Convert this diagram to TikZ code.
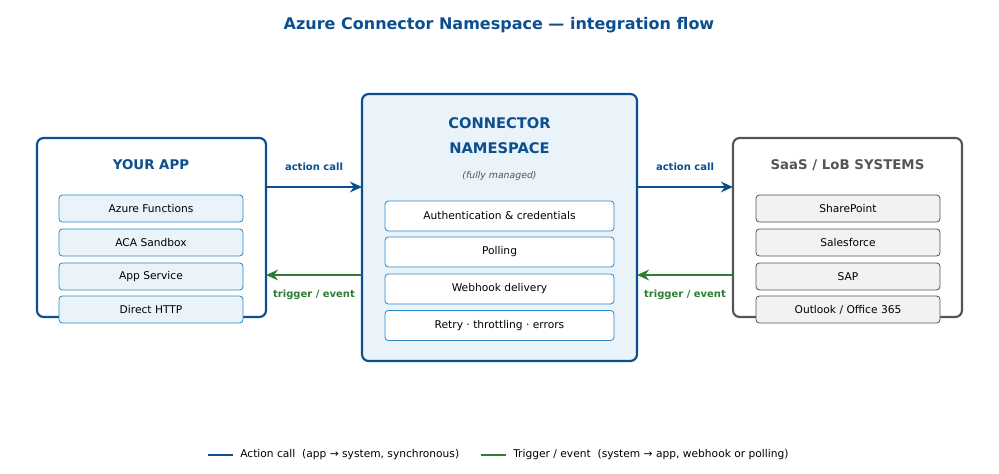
\documentclass[tikz,border=0pt]{standalone}
\usepackage{fontspec}
\setmainfont{DejaVu Sans}
\usetikzlibrary{arrows.meta,positioning}
\definecolor{azblue}{HTML}{0B4F8F}
\definecolor{itemblue}{HTML}{2A88C8}
\definecolor{paleblue}{HTML}{EAF2FA}
\definecolor{trgreen}{HTML}{2E7D32}
\definecolor{saasgray}{HTML}{555555}
\definecolor{palegray}{HTML}{F2F2F2}
\tikzset{
  panel/.style={draw=azblue, line width=1.6pt, rounded corners=5pt, fill=white},
  item/.style={draw=itemblue, line width=0.6pt, rounded corners=2.5pt, fill=paleblue,
    minimum width=184*0.75pt, minimum height=27*0.75pt, font=\fontsize{8}{9}\selectfont},
  citem/.style={item, fill=white, minimum width=229*0.75pt, minimum height=30*0.75pt},
  sitem/.style={item, draw=saasgray, fill=palegray},
  head/.style={font=\fontsize{10}{12}\selectfont\bfseries, text=azblue},
  action/.style={draw=azblue, line width=2pt, -{Stealth[length=9pt,width=8pt]}},
  trigger/.style={draw=trgreen, line width=2pt, -{Stealth[length=9pt,width=8pt]}},
  lbl/.style={font=\fontsize{7.5}{9}\selectfont\bfseries}
}
\begin{document}
\begin{tikzpicture}[x=0.75pt, y=-0.75pt]
\useasboundingbox (0,0) rectangle (999,474);
\node[font=\fontsize{12}{14}\selectfont\bfseries, text=azblue] (title) at (499,25) {Azure Connector Namespace — integration flow};
% your app
\draw[panel] (37,138) rectangle (266,317);
\node[head] (app) at (151,165) {YOUR APP};
\node[item] (fn) at (151,208.5) {Azure Functions};
\node[item] (aca) at (151,242.5) {ACA Sandbox};
\node[item] (svc) at (151,276.5) {App Service};
\node[item] (http) at (151,309.5) {Direct HTTP};
% namespace
\draw[panel, fill=paleblue] (362,94) rectangle (637,361);
\node[head, font=\fontsize{11}{13}\selectfont\bfseries] (ns1) at (499.5,123) {CONNECTOR};
\node[head, font=\fontsize{11}{13}\selectfont\bfseries] (ns2) at (499.5,148) {NAMESPACE};
\node[font=\fontsize{7}{8}\selectfont\itshape, text=saasgray] (managed) at (499.5,176) {(fully managed)};
\node[citem] (auth) at (499.5,216) {Authentication \& credentials};
\node[citem] (poll) at (499.5,252) {Polling};
\node[citem] (hook) at (499.5,289) {Webhook delivery};
\node[citem] (retry) at (499.5,325.5) {Retry · throttling · errors};
% saas
\draw[panel, draw=saasgray] (733,138) rectangle (962,317);
\node[head, text=saasgray] (saas) at (847.5,165) {SaaS / LoB SYSTEMS};
\node[sitem] (sp) at (848,208.5) {SharePoint};
\node[sitem] (sf) at (848,242.5) {Salesforce};
\node[sitem] (sap) at (848,276.5) {SAP};
\node[sitem] (outlook) at (848,309.5) {Outlook / Office 365};
% flows
\coordinate (appA) at (266,187); \coordinate (nsAin) at (362,187);
\coordinate (appT) at (266,275); \coordinate (nsTout) at (362,275);
\coordinate (nsAout) at (637,187); \coordinate (saasA) at (733,187);
\coordinate (nsTin) at (637,275); \coordinate (saasT) at (733,275);
\draw[action] (appA) -- (nsAin);
\draw[trigger] (nsTout) -- (appT);
\draw[action] (nsAout) -- (saasA);
\draw[trigger] (saasT) -- (nsTin);
\node[lbl, text=azblue] (la1) at (314,167) {action call};
\node[lbl, text=trgreen] (lt1) at (314,295) {trigger / event};
\node[lbl, text=azblue] (la2) at (685,167) {action call};
\node[lbl, text=trgreen] (lt2) at (685,295) {trigger / event};
% legend
\coordinate (k1a) at (208,455); \coordinate (k1b) at (233,455);
\coordinate (k2a) at (481,455); \coordinate (k2b) at (506,455);
\draw[azblue, line width=2.2pt] (k1a) -- (k1b);
\draw[trgreen, line width=2.2pt] (k2a) -- (k2b);
\node[anchor=west, font=\fontsize{8}{9}\selectfont, inner sep=0pt] (k1) at (240,455) {Action call\ \ (app → system, synchronous)};
\node[anchor=west, font=\fontsize{8}{9}\selectfont, inner sep=0pt] (k2) at (513,455) {Trigger / event\ \ (system → app, webhook or polling)};
\end{tikzpicture}
\end{document}
